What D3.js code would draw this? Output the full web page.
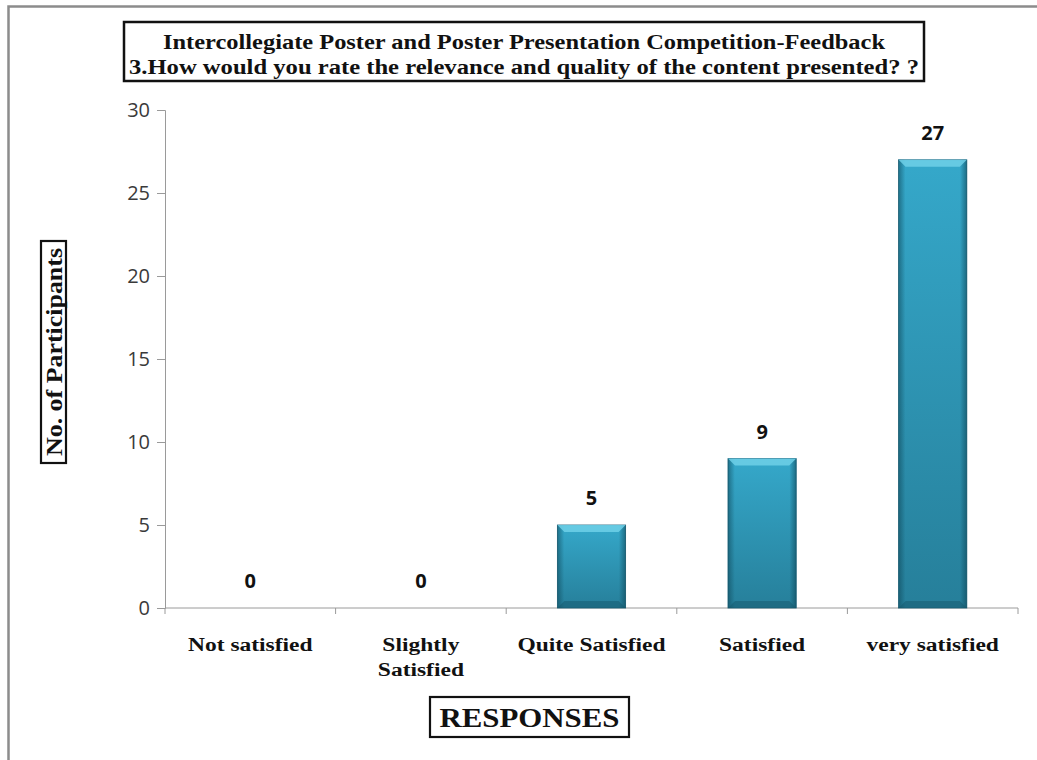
<!DOCTYPE html>
<html>
<head>
<meta charset="utf-8">
<script src="https://cdn.jsdelivr.net/npm/d3@7"></script>
<style>
  body { margin: 0; background: #fff; }
  svg { display: block; }
</style>
</head>
<body>
<svg id="svg" width="1037" height="760"></svg>
<script>
// chart data
var categories = [["Not satisfied"], ["Slightly", "Satisfied"], ["Quite Satisfied"], ["Satisfied"], ["very satisfied"]];
var counts = [0, 0, 5, 9, 27];
var yTicks = [0, 5, 10, 15, 20, 25, 30];
var titleLines = ["Intercollegiate Poster and Poster Presentation Competition-Feedback",
                  "3.How would you rate the relevance and quality of the content presented? ?"];
var yTitle = "No. of Participants";
var xTitle = "RESPONSES";

var svg = d3.select("#svg"),
    margin = { left: 165, right: 19, top: 110, bottom: 152 },
    width = 1037 - margin.left - margin.right,
    height = 760 - margin.top - margin.bottom;

var serif = "'Liberation Serif', 'DejaVu Serif', serif";
var sans = "'Open Sans', 'DejaVu Sans', sans-serif";

// stretch serif text sideways, the original uses a wider face
function widen(sel, k) {
    sel.each(function() {
        var w = this.getComputedTextLength();
        d3.select(this).attr("textLength", w * k).attr("lengthAdjust", "spacingAndGlyphs");
    });
}

var x = d3.scaleBand().domain(d3.range(categories.length)).range([margin.left, margin.left + width]).paddingInner(0.6).paddingOuter(0.3);
var xb = d3.scaleBand().domain(d3.range(categories.length)).range([margin.left, margin.left + width]);
var y = d3.scaleLinear().domain([0, 30]).range([margin.top + height, margin.top]);

// outer frame (partially visible)
svg.append("path")
    .attr("d", "M8.5,760 V6.5 H1037")
    .style("fill", "none").style("stroke", "#8c8c8c").style("stroke-width", 2.5);

// gradients for the bevelled bars
var defs = svg.append("defs");
var gv = defs.append("linearGradient").attr("id", "gv").attr("x1", 0).attr("y1", 0).attr("x2", 0).attr("y2", 1);
gv.append("stop").attr("offset", "0%").attr("stop-color", "#35a8ca");
gv.append("stop").attr("offset", "100%").attr("stop-color", "#267f9a");
var gh = defs.append("linearGradient").attr("id", "gh").attr("x1", 0).attr("y1", 0).attr("x2", 1).attr("y2", 0);
gh.append("stop").attr("offset", "0%").attr("stop-color", "#0d4556").attr("stop-opacity", 0.55);
gh.append("stop").attr("offset", "10%").attr("stop-color", "#0d4556").attr("stop-opacity", 0.0);
gh.append("stop").attr("offset", "90%").attr("stop-color", "#0d4556").attr("stop-opacity", 0.0);
gh.append("stop").attr("offset", "100%").attr("stop-color", "#0d4556").attr("stop-opacity", 0.6);

// y axis
var yAxis = d3.axisLeft(y).tickValues(yTicks).tickSize(8).tickPadding(7);
var gy = svg.append("g").attr("transform", "translate(" + margin.left + ",0)").call(yAxis);
gy.select(".domain").attr("stroke", "#9a9a9a");
gy.selectAll(".tick line").attr("stroke", "#9a9a9a");
gy.selectAll(".tick text").style("font-family", sans).style("font-size", "20px").attr("fill", "#3a3a3a");

// x axis (ticks at category boundaries)
var gx = svg.append("g").attr("transform", "translate(0," + (margin.top + height) + ")");
gx.append("line").attr("x1", margin.left).attr("x2", margin.left + width)
    .attr("stroke", "#9a9a9a");
gx.selectAll(".bt").data(d3.range(categories.length + 1)).enter().append("line")
    .attr("x1", d => d < categories.length ? xb(d) : margin.left + width)
    .attr("x2", d => d < categories.length ? xb(d) : margin.left + width)
    .attr("y1", 0).attr("y2", 6).attr("stroke", "#9a9a9a");

// category labels
var cl = gx.selectAll(".cat").data(categories).enter().append("text")
    .attr("text-anchor", "middle")
    .style("font-family", serif).style("font-weight", "bold").style("font-size", "18.5px").attr("fill", "#111");
cl.each(function(d, i) {
    var t = d3.select(this);
    d.forEach(function(s, j) {
        t.append("tspan").attr("x", xb(i) + xb.bandwidth() / 2).attr("y", 43 + j * 25).text(s);
    });
});
widen(cl.selectAll("tspan"), 1.27);

// bars
var bars = svg.append("g");
counts.forEach(function(v, i) {
    if (v <= 0) return;
    var x0 = x(i), w = x.bandwidth(), y0 = y(v), h = y(0) - y(v);
    var b = 7;
    bars.append("rect").attr("x", x0).attr("y", y0).attr("width", w).attr("height", h)
        .style("fill", "url(#gv)").style("stroke", "#1d6279").style("stroke-width", 0.8);
    bars.append("rect").attr("x", x0).attr("y", y0).attr("width", w).attr("height", h)
        .style("fill", "url(#gh)");
    bars.append("path")
        .attr("d", "M" + x0 + "," + y0 + "H" + (x0 + w) + "L" + (x0 + w - b) + "," + (y0 + b) + "H" + (x0 + b) + "Z")
        .style("fill", "#6fd0e8").style("opacity", 0.85);
    bars.append("path")
        .attr("d", "M" + x0 + "," + (y0 + h) + "H" + (x0 + w) + "L" + (x0 + w - b) + "," + (y0 + h - b) + "H" + (x0 + b) + "Z")
        .style("fill", "#16576b").style("opacity", 0.5);
});

// value labels
svg.append("g").selectAll("text").data(counts).enter().append("text")
    .attr("x", (d, i) => x(i) + x.bandwidth() / 2)
    .attr("y", d => y(d) - 20)
    .attr("text-anchor", "middle")
    .style("font-family", sans).style("font-weight", "bold").style("font-size", "20px").attr("fill", "#111")
    .text(d => d);

// title box
svg.append("rect").attr("x", 124).attr("y", 22).attr("width", 800).attr("height", 59)
    .style("fill", "#fff").style("stroke", "#111").style("stroke-width", 2.5);
svg.append("g").selectAll("text").data(titleLines).enter().append("text")
    .attr("x", 524).attr("y", (d, i) => 49 + i * 25)
    .attr("text-anchor", "middle")
    .attr("textLength", (d, i) => i === 0 ? 722 : 790)
    .attr("lengthAdjust", "spacingAndGlyphs")
    .style("font-family", serif).style("font-weight", "bold").style("font-size", "20px").attr("fill", "#111")
    .text(d => d);

// y title box
svg.append("rect").attr("x", 41).attr("y", 241).attr("width", 25).attr("height", 222)
    .style("fill", "#fff").style("stroke", "#111").style("stroke-width", 2.2);
svg.append("text")
    .attr("transform", "translate(62,352) rotate(-90)")
    .attr("text-anchor", "middle")
    .attr("textLength", 208).attr("lengthAdjust", "spacingAndGlyphs")
    .style("font-family", serif).style("font-weight", "bold").style("font-size", "24px").attr("fill", "#111")
    .text(yTitle);

// x title box
svg.append("rect").attr("x", 430).attr("y", 697).attr("width", 199).attr("height", 40)
    .style("fill", "#fff").style("stroke", "#111").style("stroke-width", 2.2);
svg.append("text")
    .attr("x", 529.5).attr("y", 727)
    .attr("text-anchor", "middle")
    .attr("textLength", 180).attr("lengthAdjust", "spacingAndGlyphs")
    .style("font-family", serif).style("font-weight", "bold").style("font-size", "27px").attr("fill", "#111")
    .text(xTitle);
</script>
</body>
</html>
